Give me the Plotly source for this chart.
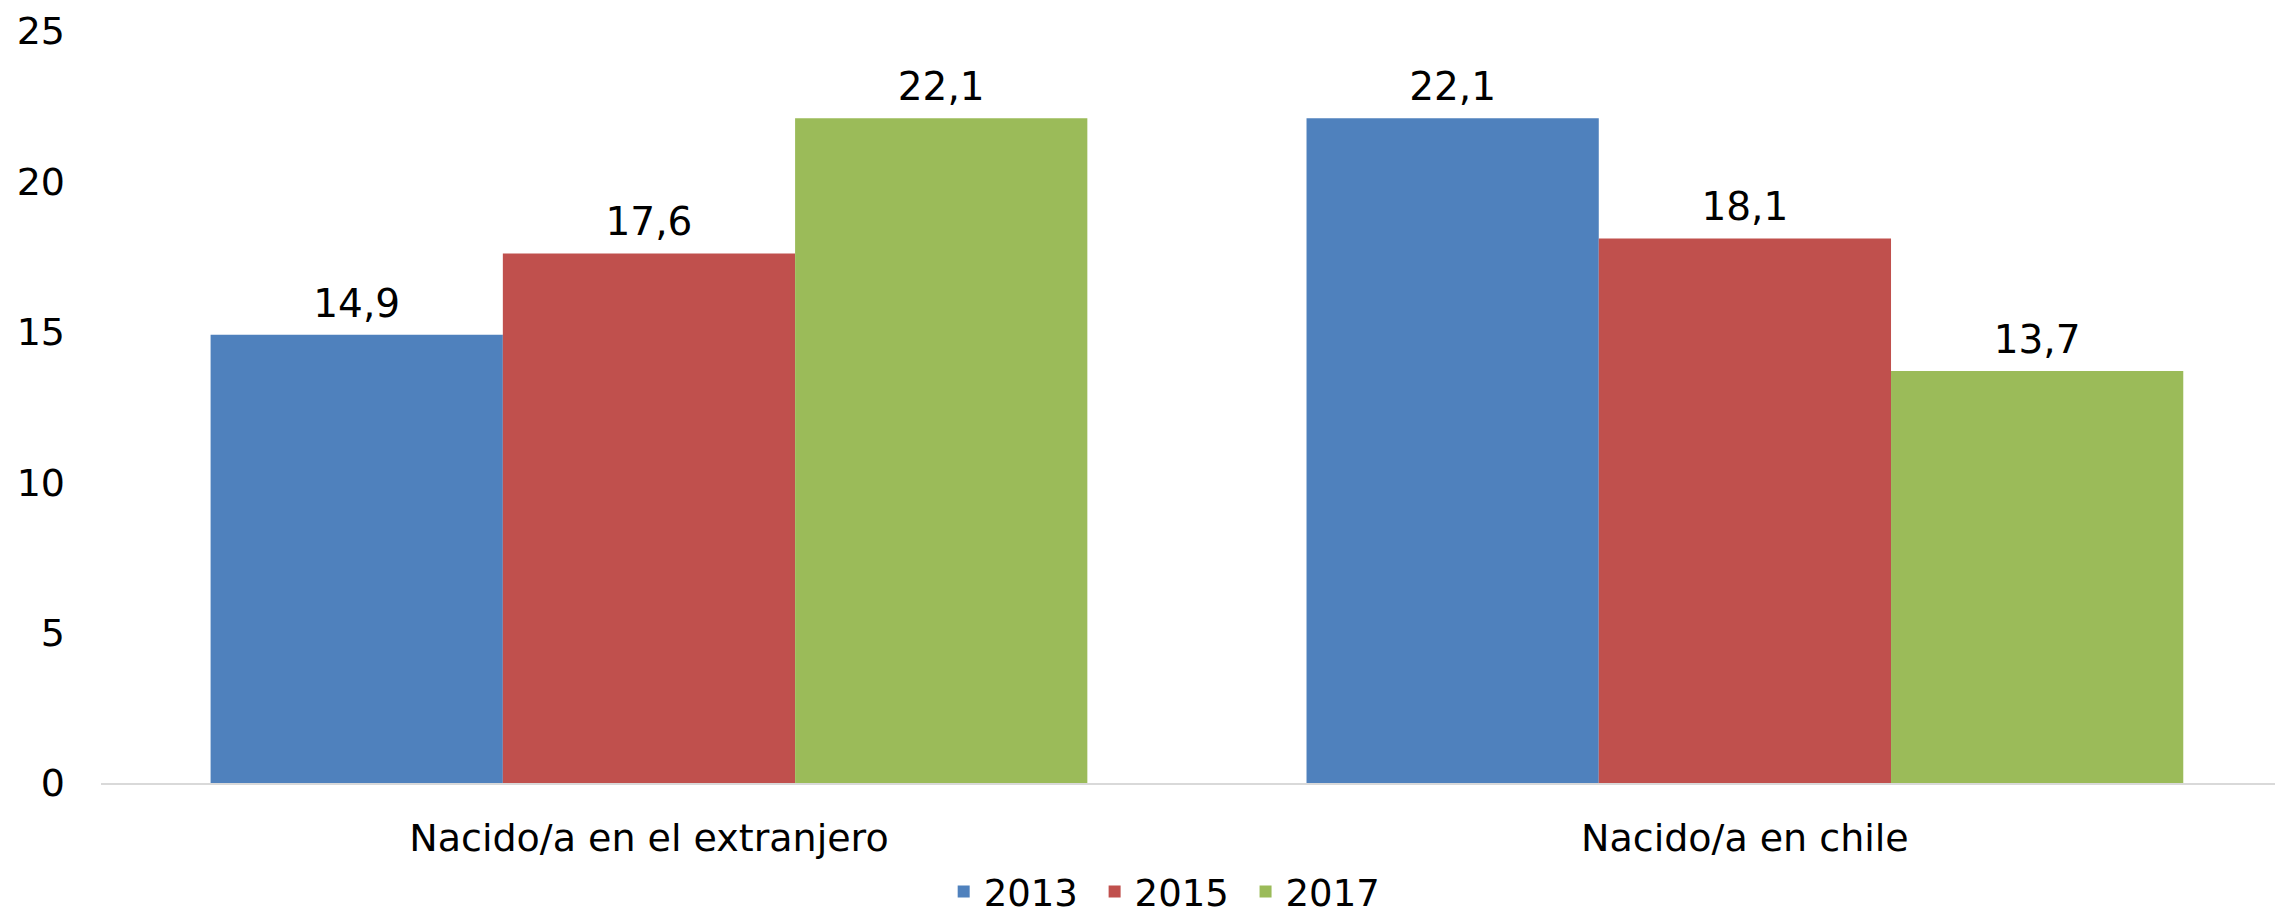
import plotly.graph_objects as go

categories = ["Nacido/a en el extranjero", "Nacido/a en chile"]
years = ["2013", "2015", "2017"]
values_2013 = [14.9, 22.1]
values_2015 = [17.6, 18.1]
values_2017 = [22.1, 13.7]
colors = ["#4F81BD", "#C0504D", "#9BBB59"]
y_ticks = [0, 5, 10, 15, 20, 25]

series = [values_2013, values_2015, values_2017]

FONT = "DejaVu Sans"
fig = go.Figure()
for i, (name, vals, col) in enumerate(zip(years, series, colors)):
    fig.add_trace(go.Bar(
        x=categories, y=vals, name=name + "\u00a0", offsetgroup=str(i),
        marker=dict(color=col, line=dict(width=0)),
    ))
for i, (name, vals) in enumerate(zip(years, series)):
    fig.add_trace(go.Scatter(
        x=categories, y=vals, name=name + " labels", offsetgroup=str(i),
        mode="markers+text", showlegend=False, hoverinfo="skip",
        marker=dict(size=12, opacity=0),
        text=[f"{v:.1f}".replace(".", ",") for v in vals],
        textposition="top center",
        textfont=dict(family=FONT, size=39, color="#000000"),
        cliponaxis=False,
    ))

fig.update_layout(
    width=2275, height=908,
    margin=dict(l=93, r=0, t=23, b=133, autoexpand=False),
    paper_bgcolor="white", plot_bgcolor="white",
    barmode="group", bargap=0.2, bargroupgap=0,
    scattermode="group", scattergap=0.2,
    separators=", ",
    font=dict(family=FONT, size=38, color="#000000"),
    showlegend=True,
    legend=dict(orientation="h", x=0.49, xanchor="center", y=-0.145, yanchor="middle",
                font=dict(family=FONT, size=37, color="#000000"),
                traceorder="normal", itemwidth=30),
)
fig.update_xaxes(
    range=[-0.5, 1.491], showgrid=False, showline=True, linecolor="#D9D9D9", linewidth=2,
    ticks="", ticklabelstandoff=20, automargin=False,
    tickfont=dict(family=FONT, size=38, color="#000000"),
)
fig.update_yaxes(
    range=[0, 25], tickvals=y_ticks, showgrid=False, zeroline=False, showline=False,
    ticks="", ticklabelstandoff=35, automargin=False,
    tickfont=dict(family=FONT, size=38, color="#000000"),
)

fig.write_html("out.html")
